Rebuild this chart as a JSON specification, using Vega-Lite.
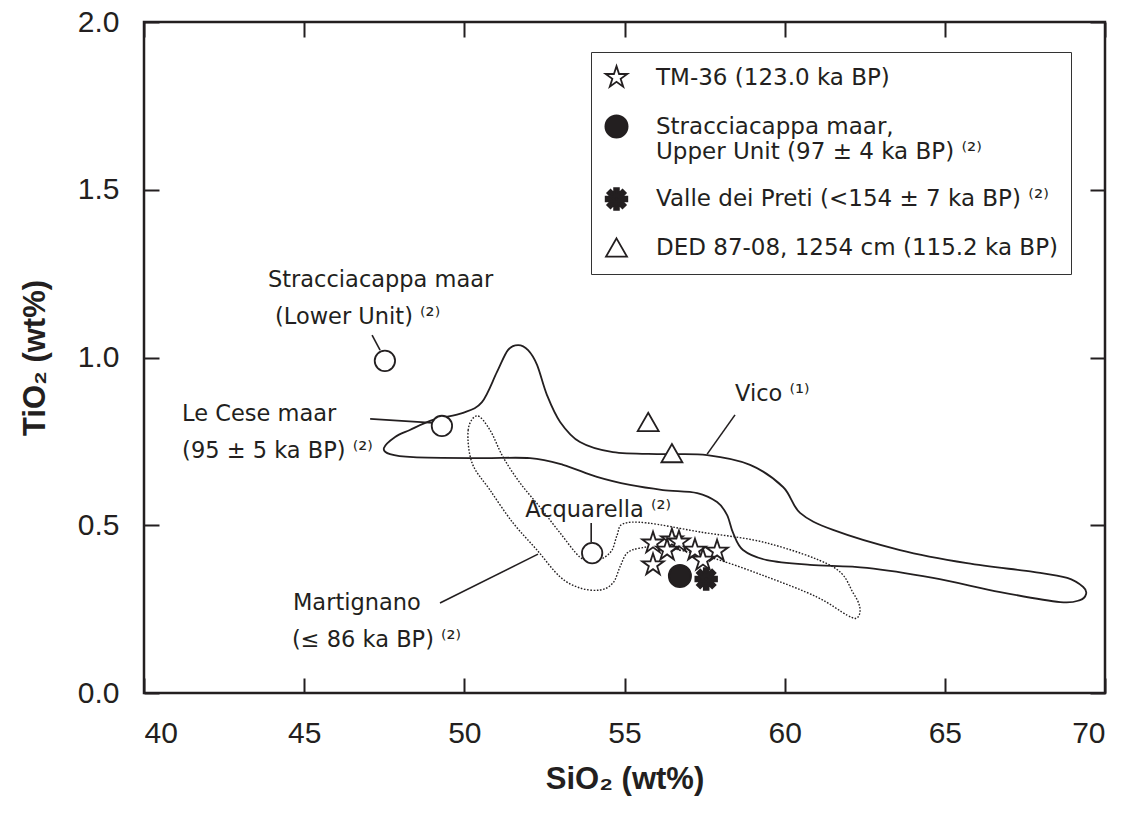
{
  "$schema": "https://vega.github.io/schema/vega-lite/v6.json",
  "autosize": {"type": "none"},
  "padding": {"left": 144, "top": 22, "right": 23, "bottom": 130},
  "width": 961,
  "height": 671,
  "background": "white",
  "config": {
    "view": {"stroke": "#231f20", "strokeWidth": 2.5},
    "font": "Liberation Sans",
    "axis": {"grid": false, "domain": false, "tickColor": "#231f20", "tickWidth": 2, "tickSize": -15,
             "labelFont": "Liberation Sans", "labelFontSize": 30, "labelFontWeight": "normal", "labelColor": "#231f20", "labelPadding": 40,
             "titleFont": "Liberation Sans", "titleFontSize": 31, "titleFontWeight": "bold", "titleColor": "#231f20"}
  },
  "datasets": {
    "vico": [
      {"i": 1, "x": 47.49, "y": 0.730}, {"i": 2, "x": 47.84, "y": 0.763}, {"i": 3, "x": 48.30, "y": 0.784},
      {"i": 4, "x": 49.02, "y": 0.814}, {"i": 5, "x": 49.96, "y": 0.835}, {"i": 6, "x": 50.55, "y": 0.867},
      {"i": 7, "x": 51.02, "y": 0.957}, {"i": 8, "x": 51.36, "y": 1.022}, {"i": 9, "x": 51.68, "y": 1.037},
      {"i": 10, "x": 51.99, "y": 1.022}, {"i": 11, "x": 52.27, "y": 0.978}, {"i": 12, "x": 52.58, "y": 0.888},
      {"i": 13, "x": 52.99, "y": 0.808}, {"i": 14, "x": 53.61, "y": 0.748}, {"i": 15, "x": 54.64, "y": 0.718},
      {"i": 16, "x": 56.20, "y": 0.712}, {"i": 17, "x": 57.58, "y": 0.709}, {"i": 18, "x": 58.92, "y": 0.680},
      {"i": 19, "x": 59.95, "y": 0.614}, {"i": 20, "x": 60.48, "y": 0.537}, {"i": 21, "x": 61.51, "y": 0.486},
      {"i": 22, "x": 63.60, "y": 0.426}, {"i": 23, "x": 65.69, "y": 0.387}, {"i": 24, "x": 67.76, "y": 0.361},
      {"i": 25, "x": 68.82, "y": 0.343}, {"i": 26, "x": 69.32, "y": 0.316}, {"i": 27, "x": 69.41, "y": 0.295},
      {"i": 28, "x": 69.22, "y": 0.277}, {"i": 29, "x": 68.60, "y": 0.271}, {"i": 30, "x": 66.73, "y": 0.301},
      {"i": 31, "x": 64.63, "y": 0.343}, {"i": 32, "x": 62.57, "y": 0.373}, {"i": 33, "x": 60.79, "y": 0.382},
      {"i": 34, "x": 59.45, "y": 0.396}, {"i": 35, "x": 58.70, "y": 0.426}, {"i": 36, "x": 58.39, "y": 0.477},
      {"i": 37, "x": 58.20, "y": 0.531}, {"i": 38, "x": 57.89, "y": 0.569}, {"i": 39, "x": 57.27, "y": 0.596},
      {"i": 40, "x": 56.20, "y": 0.605}, {"i": 41, "x": 55.17, "y": 0.620}, {"i": 42, "x": 54.14, "y": 0.644},
      {"i": 43, "x": 53.08, "y": 0.680}, {"i": 44, "x": 52.05, "y": 0.700}, {"i": 45, "x": 50.49, "y": 0.700},
      {"i": 46, "x": 48.40, "y": 0.703}, {"i": 47, "x": 47.68, "y": 0.712}
    ],
    "martignano": [
      {"i": 1, "x": 50.40, "y": 0.826}, {"i": 2, "x": 50.12, "y": 0.784}, {"i": 3, "x": 50.24, "y": 0.686},
      {"i": 4, "x": 50.80, "y": 0.605}, {"i": 5, "x": 51.52, "y": 0.507}, {"i": 6, "x": 52.27, "y": 0.426},
      {"i": 7, "x": 52.99, "y": 0.346}, {"i": 8, "x": 53.61, "y": 0.313}, {"i": 9, "x": 54.24, "y": 0.307},
      {"i": 10, "x": 54.64, "y": 0.328}, {"i": 11, "x": 54.86, "y": 0.376}, {"i": 12, "x": 55.08, "y": 0.417},
      {"i": 13, "x": 55.49, "y": 0.432}, {"i": 14, "x": 56.20, "y": 0.435}, {"i": 15, "x": 57.76, "y": 0.402},
      {"i": 16, "x": 59.45, "y": 0.346}, {"i": 17, "x": 61.01, "y": 0.286}, {"i": 18, "x": 61.95, "y": 0.232},
      {"i": 19, "x": 62.26, "y": 0.224}, {"i": 20, "x": 62.35, "y": 0.253}, {"i": 21, "x": 62.14, "y": 0.298},
      {"i": 22, "x": 61.51, "y": 0.376}, {"i": 23, "x": 59.45, "y": 0.447}, {"i": 24, "x": 57.36, "y": 0.480},
      {"i": 25, "x": 55.70, "y": 0.507}, {"i": 26, "x": 54.95, "y": 0.504}, {"i": 27, "x": 54.77, "y": 0.471},
      {"i": 28, "x": 54.61, "y": 0.426}, {"i": 29, "x": 54.33, "y": 0.402}, {"i": 30, "x": 54.02, "y": 0.396},
      {"i": 31, "x": 53.61, "y": 0.405}, {"i": 32, "x": 52.99, "y": 0.477}, {"i": 33, "x": 52.36, "y": 0.554},
      {"i": 34, "x": 51.74, "y": 0.626}, {"i": 35, "x": 51.21, "y": 0.703}, {"i": 36, "x": 50.80, "y": 0.784}
    ],
    "leaders": [
      {"x": 47.12, "y": 1.067, "x2": 47.37, "y2": 1.022},
      {"x": 47.06, "y": 0.817, "x2": 49.02, "y2": 0.805},
      {"x": 53.96, "y": 0.507, "x2": 53.96, "y2": 0.450},
      {"x": 49.24, "y": 0.268, "x2": 52.30, "y2": 0.414},
      {"x": 58.45, "y": 0.829, "x2": 57.58, "y2": 0.712}
    ],
    "refsites": [
      {"site": "Stracciacappa maar (Lower Unit)", "x": 47.52, "y": 0.990},
      {"site": "Le Cese maar", "x": 49.30, "y": 0.796},
      {"site": "Acquarella", "x": 53.99, "y": 0.417}
    ],
    "samples": [
      {"series": "TM-36 (123.0 ka BP)", "x": 55.89, "y": 0.447},
      {"series": "TM-36 (123.0 ka BP)", "x": 55.89, "y": 0.382},
      {"series": "TM-36 (123.0 ka BP)", "x": 56.48, "y": 0.456},
      {"series": "TM-36 (123.0 ka BP)", "x": 56.70, "y": 0.450},
      {"series": "TM-36 (123.0 ka BP)", "x": 56.33, "y": 0.426},
      {"series": "TM-36 (123.0 ka BP)", "x": 57.20, "y": 0.426},
      {"series": "TM-36 (123.0 ka BP)", "x": 57.89, "y": 0.423},
      {"series": "TM-36 (123.0 ka BP)", "x": 57.45, "y": 0.396},
      {"series": "Stracciacappa maar, Upper Unit (97 ± 4 ka BP) ⁽²⁾", "x": 56.73, "y": 0.349},
      {"series": "Valle dei Preti (<154 ± 7 ka BP) ⁽²⁾", "x": 57.55, "y": 0.340},
      {"series": "DED 87-08, 1254 cm (115.2 ka BP)", "x": 55.74, "y": 0.808},
      {"series": "DED 87-08, 1254 cm (115.2 ka BP)", "x": 56.48, "y": 0.715}
    ],
    "labels": [
      {"label": "Stracciacappa maar", "x": 43.87, "y": 1.231},
      {"label": "(Lower Unit) ⁽²⁾", "x": 44.09, "y": 1.121},
      {"label": "Le Cese maar", "x": 41.19, "y": 0.832},
      {"label": "(95 ± 5 ka BP) ⁽²⁾", "x": 41.19, "y": 0.721},
      {"label": "Acquarella ⁽²⁾", "x": 51.90, "y": 0.545},
      {"label": "Vico ⁽¹⁾", "x": 58.45, "y": 0.891},
      {"label": "Martignano", "x": 44.65, "y": 0.268},
      {"label": "(≤ 86 ka BP) ⁽²⁾", "x": 44.62, "y": 0.158}
    ]
  },
  "encoding": {
    "x": {"field": "x", "type": "quantitative", "scale": {"domain": [40, 70], "nice": false, "zero": false}, "axis": null},
    "y": {"field": "y", "type": "quantitative", "scale": {"domain": [0, 2], "nice": false, "zero": false}, "axis": null}
  },
  "layer": [
    {
      "data": {"name": "vico"},
      "mark": {"type": "line", "interpolate": "cardinal-closed", "stroke": "#231f20", "strokeWidth": 1.8},
      "encoding": {
        "x": {"field": "x", "type": "quantitative", "scale": {"domain": [40, 70], "nice": false, "zero": false},
              "axis": {"orient": "bottom", "values": [40, 45, 50, 55, 60, 65, 70], "format": "d",
                       "title": "SiO₂ (wt%)", "titlePadding": 16}},
        "y": {"field": "y", "type": "quantitative", "scale": {"domain": [0, 2], "nice": false, "zero": false},
              "axis": {"orient": "left", "values": [0, 0.5, 1, 1.5, 2], "format": ".1f",
                       "title": "TiO₂ (wt%)", "titlePadding": 26}},
        "order": {"field": "i", "type": "quantitative"}
      }
    },
    {
      "data": {"name": "martignano"},
      "mark": {"type": "line", "interpolate": "cardinal-closed", "stroke": "#231f20", "strokeWidth": 1.4, "strokeDash": [1.6, 1.6]},
      "encoding": {
        "x": {"field": "x", "type": "quantitative", "scale": {"domain": [40, 70], "nice": false, "zero": false},
              "axis": {"orient": "top", "values": [40, 45, 50, 55, 60, 65, 70], "labels": false, "title": null}},
        "y": {"field": "y", "type": "quantitative", "scale": {"domain": [0, 2], "nice": false, "zero": false},
              "axis": {"orient": "right", "values": [0, 0.5, 1, 1.5, 2], "labels": false, "title": null}},
        "order": {"field": "i", "type": "quantitative"}
      }
    },
    {
      "data": {"name": "leaders"},
      "mark": {"type": "rule", "stroke": "#231f20", "strokeWidth": 1.6},
      "encoding": {"x2": {"field": "x2"}, "y2": {"field": "y2"}}
    },
    {
      "data": {"name": "refsites"},
      "mark": {"type": "point", "shape": "circle", "size": 415, "filled": false, "fill": "white", "fillOpacity": 1, "stroke": "#231f20", "strokeWidth": 1.8, "opacity": 1}
    },
    {
      "data": {"name": "samples"},
      "mark": {"type": "point", "filled": false, "stroke": "#231f20", "strokeWidth": 1.8, "opacity": 1, "fillOpacity": 1},
      "encoding": {
        "shape": {"field": "series", "type": "nominal",
          "scale": {"domain": ["TM-36 (123.0 ka BP)", "Stracciacappa maar, Upper Unit (97 ± 4 ka BP) ⁽²⁾", "Valle dei Preti (<154 ± 7 ka BP) ⁽²⁾", "DED 87-08, 1254 cm (115.2 ka BP)"],
                    "range": ["M0,-1L0.225,-0.309L0.951,-0.309L0.363,0.118L0.588,0.809L0,0.382L-0.588,0.809L-0.363,0.118L-0.951,-0.309L-0.225,-0.309Z", "circle", "M-0.22,-1L0.22,-1L0.22,1L-0.22,1ZM-1,-0.22L1,-0.22L1,0.22L-1,0.22ZM0.552,-0.863L0.863,-0.552L-0.552,0.863L-0.863,0.552ZM-0.863,-0.552L-0.552,-0.863L0.863,0.552L0.552,0.863Z", "M0,-0.87L1,0.87L-1,0.87Z"]},
          "legend": {"title": null, "orient": "none", "legendX": 447, "legendY": 30,
                     "padding": 13, "rowPadding": 20, "labelOffset": 27,
                     "strokeColor": "#333333", "fillColor": "white",
                     "labelFont": "DejaVu Sans", "labelFontSize": 23, "labelColor": "#231f20", "labelLimit": 600,
                     "symbolStrokeColor": "#231f20", "symbolStrokeWidth": 1.8,
                     "labelExpr": "datum.label == 'Stracciacappa maar, Upper Unit (97 ± 4 ka BP) ⁽²⁾' ? ['Stracciacappa maar,', 'Upper Unit (97 ± 4 ka BP) ⁽²⁾'] : datum.label",
                     "encode": {"labels": {"update": {"lineHeight": {"value": 30}}}}}},
        "fill": {"field": "series", "type": "nominal",
          "scale": {"domain": ["TM-36 (123.0 ka BP)", "Stracciacappa maar, Upper Unit (97 ± 4 ka BP) ⁽²⁾", "Valle dei Preti (<154 ± 7 ka BP) ⁽²⁾", "DED 87-08, 1254 cm (115.2 ka BP)"],
                    "range": ["white", "#231f20", "#231f20", "white"]}},
        "size": {"field": "series", "type": "nominal",
          "scale": {"domain": ["TM-36 (123.0 ka BP)", "Stracciacappa maar, Upper Unit (97 ± 4 ka BP) ⁽²⁾", "Valle dei Preti (<154 ± 7 ka BP) ⁽²⁾", "DED 87-08, 1254 cm (115.2 ka BP)"],
                    "range": [520, 440, 300, 529]}}
      }
    },
    {
      "data": {"name": "labels"},
      "mark": {"type": "text", "align": "left", "baseline": "middle", "font": "DejaVu Sans", "fontSize": 22.5, "color": "#231f20"},
      "encoding": {"text": {"field": "label", "type": "nominal"}}
    }
  ]
}
